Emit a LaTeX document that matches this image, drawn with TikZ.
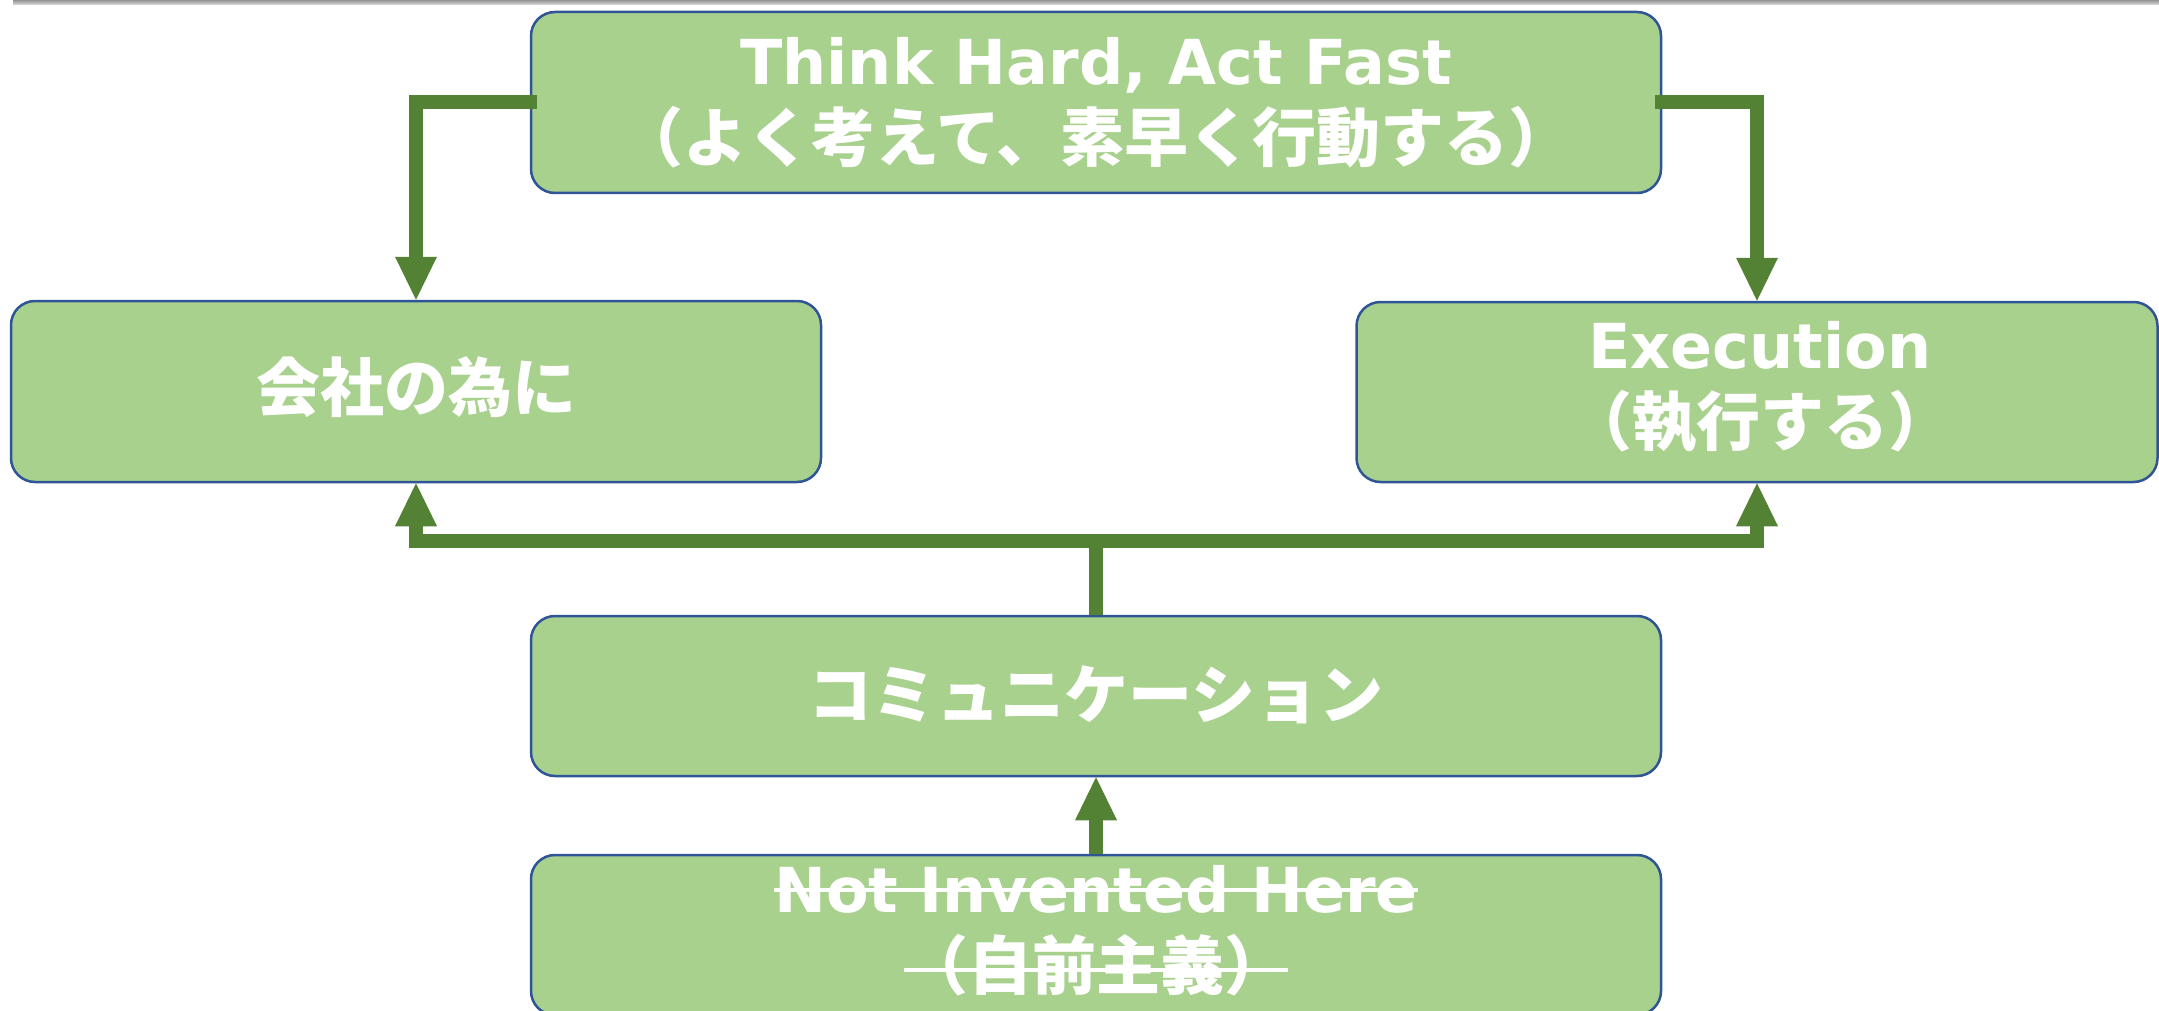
\documentclass[tikz,border=0pt]{standalone}
\usepackage{fontspec}
\setmainfont{DejaVu Sans}
\newfontfamily\jpfont{Noto Sans CJK JP}
\newfontfamily\latfont{DejaVu Sans}
\usetikzlibrary{arrows.meta,calc}
\definecolor{boxgreen}{HTML}{A9D18E}
\definecolor{boxblue}{HTML}{2F5597}
\definecolor{arrgreen}{HTML}{548235}
\newcommand{\latxt}[1]{{\latfont\bfseries\fontsize{62}{77}\selectfont #1}}
\newcommand{\jptxt}[1]{{\jpfont\bfseries\fontsize{64}{77}\selectfont #1}}
\begin{document}
\begin{tikzpicture}[x=1pt,y=-1pt,
  box/.style={draw=boxblue, line width=2.5pt, fill=boxgreen, rounded corners=24pt,
              text=white, align=center, inner sep=0pt, font=\fontsize{62}{77}\selectfont},
  conn/.style={draw=arrgreen, line width=14pt, -{Triangle[width=42pt,length=43pt,line width=0pt]}},
  strike/.style={draw=white, line width=4pt},
  lbl/.style={text=white, inner sep=0pt, font=\fontsize{62}{77}\selectfont}]
\useasboundingbox (0,0) rectangle (2159,1011);
\shade[top color=gray!85, bottom color=gray!25] (13,0) rectangle (2159,5);
% boxes
\node[box, minimum width=1130pt, minimum height=181pt] (tb) at (1096,102.5)
  {\latxt{Think Hard, Act Fast}\\\jptxt{（よく考えて、素早く行動する）}};
\node[box, minimum width=810pt, minimum height=181pt] (lb) at (416,391.5)
  {\raisebox{14pt}{\jptxt{会社の為に}}};
\node[box, minimum width=801pt, minimum height=180pt] (rb) at (1757,392) {};
\node[lbl, align=center] (rt) at (1760,387)
  {\latxt{Execution}\\\jptxt{（執行する）}};
\node[box, minimum width=1130pt, minimum height=160pt] (cb) at (1096,696)
  {\raisebox{8pt}{\jptxt{コミュニケーション}}};
\node[box, minimum width=1130pt, minimum height=160pt] (nb) at (1096,935) {};
\node[lbl, anchor=base] (nt1) at (1096,912) {\latxt{Not Invented Here}};
\node[lbl] (nt2) at (1096,965) {\jptxt{（自前主義）}};
\draw[strike] ([yshift=22pt]nt1.base west) -- ([yshift=22pt]nt1.base east);
\draw[strike] ([yshift=-5pt]nt2.west) -- ([yshift=-5pt]nt2.east);
% connectors
\draw[conn] ([xshift=7pt]tb.west) -| (lb.north);
\draw[conn] ([xshift=-7pt]tb.east) -| (rb.north);
\coordinate (j) at ($(cb.north)+(0,-74)$);
\draw[conn] (cb.north) -- (j) -| (lb.south);
\draw[conn] (cb.north) -- (j) -| (rb.south);
\draw[conn] (nb.north) -- (cb.south);
\end{tikzpicture}
\end{document}
